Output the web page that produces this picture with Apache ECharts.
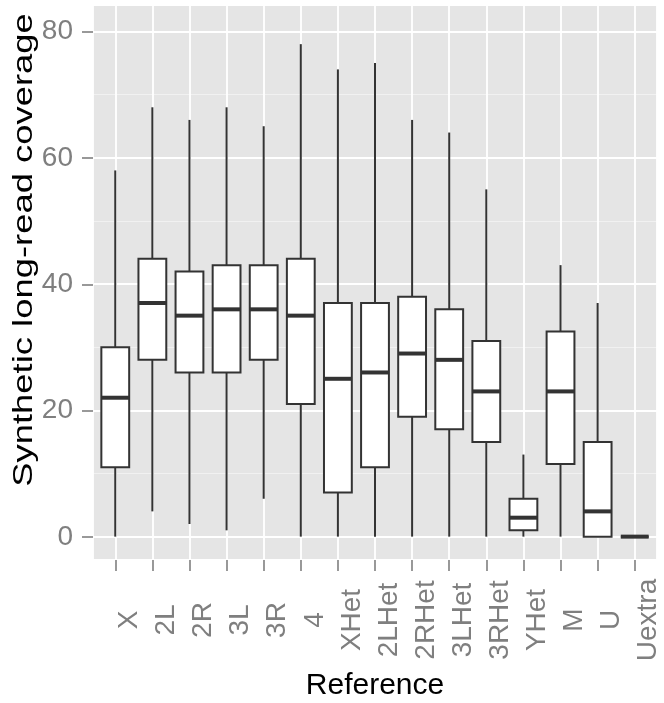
<!DOCTYPE html>
<html>
<head>
<meta charset="utf-8">
<script src="https://cdn.jsdelivr.net/npm/echarts@6/dist/echarts.min.js"></script>
<style>
html,body{margin:0;padding:0;background:#fff;}
#chart{width:664px;height:703px;}
</style>
</head>
<body>
<div id="chart"></div>
<script>
const categories = ['X','2L','2R','3L','3R','4','XHet','2LHet','2RHet','3LHet','3RHet','YHet','M','U','Uextra'];
const whiskerLow  = [0, 4, 2, 1, 6, 0, 0, 0, 0, 0, 0, 0, 0, 0, 0];
const q1Values    = [11, 28, 26, 26, 28, 21, 7, 11, 19, 17, 15, 1, 11.5, 0, 0];
const medianValues= [22, 37, 35, 36, 36, 35, 25, 26, 29, 28, 23, 3, 23, 4, 0];
const q3Values    = [30, 44, 42, 43, 43, 44, 37, 37, 38, 36, 31, 6, 32.5, 15, 0];
const whiskerHigh = [58, 68, 66, 68, 65, 78, 74, 75, 66, 64, 55, 13, 43, 37, 0];
const yTicks = [0, 20, 40, 60, 80];

const boxData = categories.map((c, i) => [i, whiskerLow[i], q1Values[i], medianValues[i], q3Values[i], whiskerHigh[i]]);

const FONT = '"Liberation Sans", Arial, Helvetica, sans-serif';
const INK = '#333333';
const GREY = '#7f7f7f';

const chart = echarts.init(document.getElementById('chart'), null, {renderer: 'canvas'});

chart.setOption({
  animation: false,
  backgroundColor: '#ffffff',
  grid: [
    {left: 93, right: 7, top: 5, bottom: 143, show: true, backgroundColor: '#E5E5E5', borderWidth: 0},
    {left: 93, right: 7, top: 31.5, bottom: 166, show: false},
    {left: 96.71, right: 10.71, top: 5, bottom: 143, show: false}
  ],
  xAxis: [
    {gridIndex: 0, type: 'value', min: -0.6, max: 14.6, minInterval: 1, maxInterval: 1, splitNumber: 15,
     axisLine: {show: false}, axisTick: {show: false}, axisLabel: {show: false},
     splitLine: {show: true, lineStyle: {color: '#ffffff', width: 1.8}}},
    {gridIndex: 1, type: 'value', show: false},
    {gridIndex: 2, type: 'category', data: categories, boundaryGap: true,
     axisLine: {show: false},
     axisTick: {show: true, alignWithLabel: true, length: 11, lineStyle: {color: GREY, width: 1.6}},
     axisLabel: {show: true, interval: 0, rotate: 90, align: 'center', verticalAlign: 'top', margin: 60,
                 fontSize: 28, color: GREY, fontFamily: FONT},
     splitLine: {show: false}}
  ],
  yAxis: [
    {gridIndex: 0, type: 'value', min: -3.7, max: 84.2, minInterval: 20, maxInterval: 20, splitNumber: 4,
     axisLine: {show: false}, axisTick: {show: false}, axisLabel: {show: false},
     splitLine: {show: true, lineStyle: {color: '#ffffff', width: 1.8}},
     minorTick: {show: false, splitNumber: 2},
     minorSplitLine: {show: true, lineStyle: {color: '#F2F2F2', width: 0.9}}},
    {gridIndex: 1, type: 'value', min: yTicks[0], max: yTicks[yTicks.length - 1], interval: 20,
     axisLine: {show: false},
     axisTick: {show: true, length: 11, lineStyle: {color: GREY, width: 1.6}},
     axisLabel: {show: true, margin: 20, fontSize: 28, color: GREY, fontFamily: FONT},
     splitLine: {show: false}},
    {gridIndex: 2, type: 'value', show: false}
  ],
  graphic: [
    {type: 'text', x: 24, y: 250, rotation: Math.PI / 2, scaleX: 1.3, scaleY: 1,
     style: {text: 'Synthetic long-read coverage', fontSize: 28, fontFamily: FONT, fill: '#000000',
             align: 'center', verticalAlign: 'middle'}},
    {type: 'text', x: 375, y: 686,
     style: {text: 'Reference', fontSize: 30, fontFamily: FONT, fill: '#000000',
             align: 'center', verticalAlign: 'middle'}}
  ],
  series: [{
    type: 'custom',
    xAxisIndex: 0, yAxisIndex: 0,
    data: boxData,
    encode: {x: 0, y: [1, 2, 3, 4, 5]},
    clip: false,
    renderItem: function (params, api) {
      const x = api.value(0);
      const lo = api.coord([x, api.value(1)]);
      const q1 = api.coord([x, api.value(2)]);
      const md = api.coord([x, api.value(3)]);
      const q3 = api.coord([x, api.value(4)]);
      const hi = api.coord([x, api.value(5)]);
      const half = api.size([0.75, 0])[0] / 2;
      const ls = {stroke: INK, lineWidth: 2, fill: null};
      return {
        type: 'group',
        children: [
          {type: 'line', shape: {x1: hi[0], y1: hi[1], x2: q3[0], y2: q3[1]}, style: ls},
          {type: 'line', shape: {x1: q1[0], y1: q1[1], x2: lo[0], y2: lo[1]}, style: ls},
          {type: 'rect', shape: {x: q3[0] - half, y: q3[1], width: 2 * half, height: q1[1] - q3[1]},
           style: {fill: '#ffffff', stroke: INK, lineWidth: 2}},
          {type: 'line', shape: {x1: md[0] - half, y1: md[1], x2: md[0] + half, y2: md[1]},
           style: {stroke: INK, lineWidth: 4, lineCap: 'butt'}}
        ]
      };
    }
  }]
});
</script>
</body>
</html>
